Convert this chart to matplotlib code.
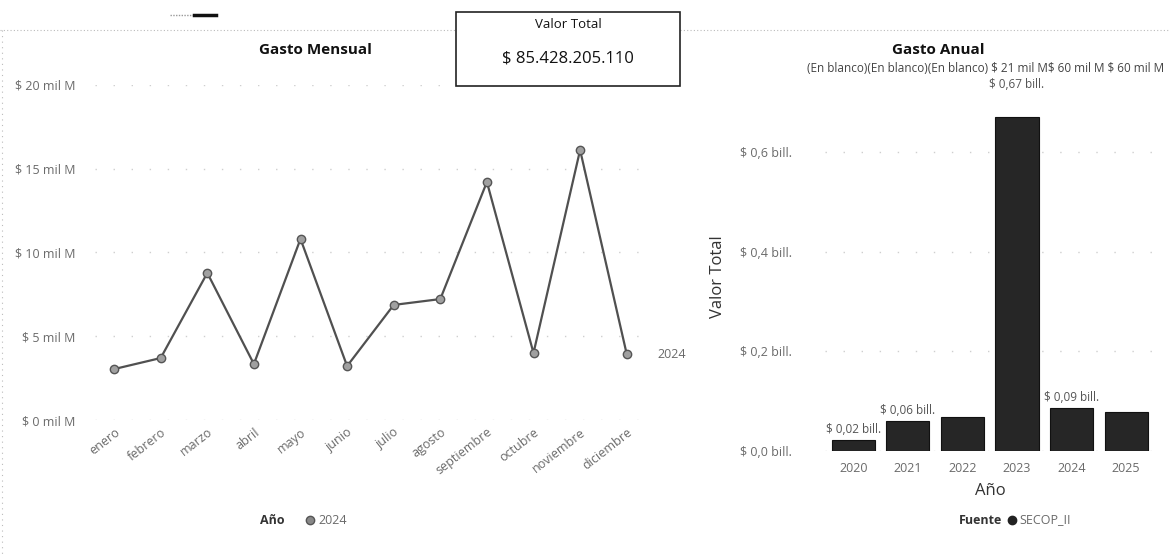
import numpy as np
import matplotlib.pyplot as plt
from matplotlib.lines import Line2D
from matplotlib.patches import Rectangle

plt.rcParams['font.family'] = ['Open Sans', 'DejaVu Sans']

# monthly spend 2024 (mil M = 1e9)
months = ['enero', 'febrero', 'marzo', 'abril', 'mayo', 'junio', 'julio',
          'agosto', 'septiembre', 'octubre', 'noviembre', 'diciembre']
monthly = [3.04, 3.70, 8.78, 3.34, 10.81, 3.22, 6.87, 7.22, 14.21, 4.00, 16.12, 3.94]
month_ticks = [0, 5, 10, 15, 20]
month_tick_labels = ['$ 0 mil M', '$ 5 mil M', '$ 10 mil M', '$ 15 mil M', '$ 20 mil M']

# yearly spend (bill. = 1e12)
years = ['2020', '2021', '2022', '2023', '2024', '2025']
yearly = [0.022, 0.060, 0.068, 0.67, 0.086, 0.078]
year_labels = ['$ 0,02 bill.', '$ 0,06 bill.', '', '$ 0,67 bill.', '$ 0,09 bill.', '']
year_ticks = [0.0, 0.2, 0.4, 0.6]
year_tick_labels = ['$ 0,0 bill.', '$ 0,2 bill.', '$ 0,4 bill.', '$ 0,6 bill.']

total_text = '$ 85.428.205.110'

W, H = 1169, 558
fig = plt.figure(figsize=(W / 100, H / 100), dpi=100)


def fx(px):
    return px / W


def fy(py):
    return 1 - py / H


tick_col = '#6a6a6a'
grid_col = '#cfcfcf'

# ---- left: Gasto Mensual ----
ax1 = fig.add_axes([fx(95), fy(420), fx(650 - 95), fy(85) - fy(420)])
x = np.arange(len(months))
ax1.plot(x, monthly, color='#505050', lw=1.6, marker='o', ms=6,
         markerfacecolor='#a0a0a0', markeredgecolor='#555555', mew=1.0,
         clip_on=False, zorder=3)
ax1.set_xlim(-0.41, 11.5)
ax1.set_ylim(0, 20)
ax1.set_yticks(month_ticks)
ax1.set_yticklabels(month_tick_labels, color=tick_col, fontsize=9)
ax1.set_xticks(x)
ax1.set_xticklabels(months, rotation=38, ha='right', rotation_mode='anchor',
                    color=tick_col, fontsize=9)
ax1.tick_params(length=0, pad=14, axis='y')
ax1.tick_params(length=0, pad=4, axis='x')
ax1.grid(axis='y', color=grid_col, ls=(0, (1, 12)), lw=1)
for s in ax1.spines.values():
    s.set_visible(False)
ax1.annotate('2024', (x[-1], monthly[-1]), xytext=(22, 0), textcoords='offset points',
             va='center', ha='left', color=tick_col, fontsize=9)

# ---- right: Gasto Anual ----
ax2 = fig.add_axes([fx(825), fy(451), fx(1155 - 825), fy(102) - fy(451)])
xb = np.arange(len(years))
ax2.bar(xb, yearly, width=0.79, color='#262626', edgecolor='#111111', lw=0.8)
ax2.set_xlim(-0.52, 5.53)
ax2.set_ylim(0, 0.7)
ax2.set_yticks(year_ticks)
ax2.set_yticklabels(year_tick_labels, color=tick_col, fontsize=9)
ax2.set_xticks(xb)
ax2.set_xticklabels(years, color=tick_col, fontsize=9)
ax2.tick_params(length=0, axis='y', pad=24)
ax2.tick_params(length=0, axis='x', pad=8)
ax2.grid(axis='y', color=grid_col, ls=(0, (1, 12)), lw=1)
ax2.set_axisbelow(True)
for s in ax2.spines.values():
    s.set_visible(False)
ax2.set_ylabel('Valor Total', fontsize=12, color='#333333', labelpad=10)
ax2.set_xlabel('Año', fontsize=12, color='#333333', labelpad=6)
for xi, v, lab in zip(xb, yearly, year_labels):
    if not lab:
        continue
    off = 19 if v > 0.5 else 3
    ax2.annotate(lab, (xi, v), xytext=(0, off), textcoords='offset points',
                 ha='center', va='bottom', color='#555555', fontsize=8.5)

# ---- titles, legends, card ----
fig.text(fx(315), fy(50), 'Gasto Mensual', ha='center', va='center',
         fontsize=11, fontweight='bold', color='#111111')
fig.text(fx(938), fy(50), 'Gasto Anual', ha='center', va='center',
         fontsize=11, fontweight='bold', color='#111111')
fig.text(fx(807), fy(69), '(En blanco)(En blanco)(En blanco) $ 21 mil M$ 60 mil M $ 60 mil M',
         ha='left', va='center', fontsize=8.5, color='#444444')

fig.text(fx(285), fy(520), 'Año', ha='right', va='center', fontsize=9,
         fontweight='bold', color='#333333')
fig.add_artist(Line2D([fx(310)], [fy(520)], marker='o', ms=6, color='#888888',
                      markeredgecolor='#555555'))
fig.text(fx(318), fy(520), '2024', ha='left', va='center', fontsize=9, color=tick_col)

fig.text(fx(1002), fy(520), 'Fuente', ha='right', va='center', fontsize=9,
         fontweight='bold', color='#333333')
fig.add_artist(Line2D([fx(1012)], [fy(520)], marker='o', ms=6, color='#222222'))
fig.text(fx(1019), fy(520), 'SECOP_II', ha='left', va='center', fontsize=9, color=tick_col)

# card
fig.add_artist(Rectangle((fx(456), fy(86)), fx(680 - 456), fy(12) - fy(86),
                         facecolor='white', edgecolor='#222222', lw=1.2, zorder=5))
fig.text(fx(568), fy(25), 'Valor Total', ha='center', va='center', fontsize=9.5,
         color='#111111', zorder=6)
fig.text(fx(568), fy(58), total_text, ha='center', va='center', fontsize=12,
         color='#111111', zorder=6)

# dotted panel borders
fig.add_artist(Line2D([0, fx(456)], [fy(30), fy(30)], color='#bbbbbb', lw=0.8, ls=(0, (1, 2))))
fig.add_artist(Line2D([fx(680), 1], [fy(30), fy(30)], color='#bbbbbb', lw=0.8, ls=(0, (1, 2))))
fig.add_artist(Line2D([fx(2), fx(2)], [fy(30), 0], color='#bbbbbb', lw=0.8, ls=(0, (1, 4))))
fig.add_artist(Line2D([fx(170), fx(194)], [fy(15), fy(15)], color='#999999', lw=1, ls=(0, (1, 1))))
fig.add_artist(Line2D([fx(194), fx(216)], [fy(15), fy(15)], color='#111111', lw=2.5))

fig.savefig('out.png', dpi=100)
